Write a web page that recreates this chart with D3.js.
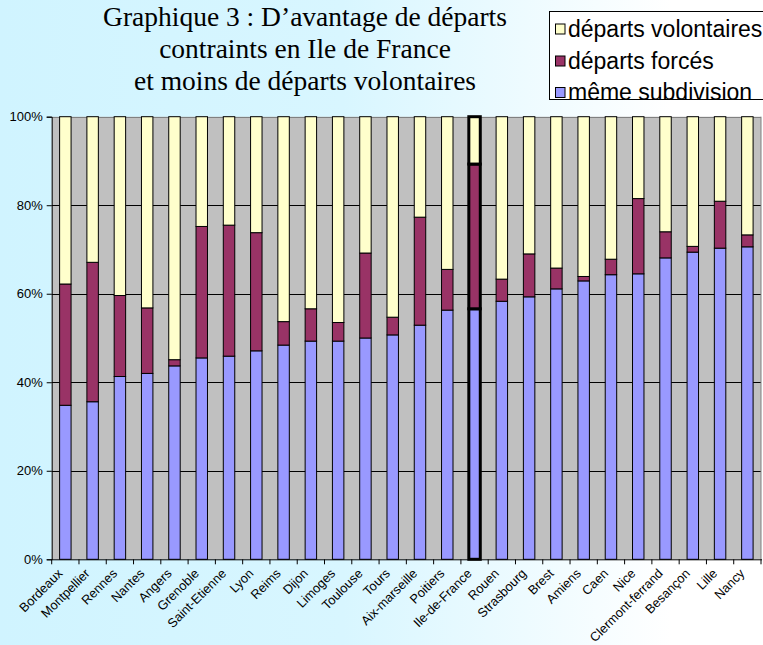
<!DOCTYPE html>
<html><head><meta charset="utf-8">
<script src="https://cdn.jsdelivr.net/npm/d3@7"></script>
<style>html,body{margin:0;padding:0;}svg{display:block;}</style>
</head><body>
<svg id="c" width="763" height="645"></svg>
<script>
const categories = ["Bordeaux","Montpellier","Rennes","Nantes","Angers","Grenoble","Saint-Etienne","Lyon","Reims","Dijon","Limoges","Toulouse","Tours","Aix-marseille","Poitiers","Ile-de-France","Rouen","Strasbourg","Brest","Amiens","Caen","Nice","Clermont-ferrand","Besançon","Lille","Nancy"];
const memeSubdivision = [34.8,35.6,41.3,42.0,43.7,45.5,45.9,47.1,48.4,49.3,49.3,50.0,50.7,52.9,56.3,56.6,58.3,59.3,61.1,62.9,64.3,64.5,68.1,69.4,70.3,70.6];
const departsForces = [27.4,31.5,18.3,14.8,1.4,29.7,29.6,26.7,5.3,7.3,4.2,19.2,4.0,24.4,9.2,32.7,5.0,9.7,4.7,1.0,3.5,17.0,5.9,1.3,10.6,2.7];
const departsVolontaires = [37.8,32.9,40.4,43.2,54.9,24.8,24.5,26.2,46.3,43.4,46.5,30.8,45.3,22.7,34.5,10.7,36.7,31.0,34.2,36.1,32.2,18.5,26.0,29.3,19.1,26.7];
const seriesNames = ["même subdivision","départs forcés","départs volontaires"];
const seriesColors = ["#9999ff","#993366","#ffffcc"];
const yTicks = [0,0.2,0.4,0.6,0.8,1];
const titleLines = ["Graphique 3 : D’avantage de départs","contraints en Ile de France","et moins de départs volontaires"];
const highlighted = "Ile-de-France";

(function(){
const svg = d3.select("#c");
const W = 763, H = 645;

const defs = svg.append("defs");
const grad = defs.append("linearGradient").attr("id","bg").attr("x1","0").attr("y1","0").attr("x2","1").attr("y2","0");
grad.append("stop").attr("offset","0").attr("stop-color","#d0f4ff");
grad.append("stop").attr("offset","0.45").attr("stop-color","#d8f6ff");
grad.append("stop").attr("offset","0.88").attr("stop-color","#ffffff");
svg.append("rect").attr("width",W).attr("height",H).attr("fill","url(#bg)");

const table = categories.map((c,i)=>({cat:c, s0:memeSubdivision[i], s1:departsForces[i], s2:departsVolontaires[i]}));
const stack = d3.stack().keys(["s0","s1","s2"]).offset(d3.stackOffsetExpand);
const stacked = stack(table);

const pLeft = 51.7, pRight = 761, pTop = 116.7, pBottom = 559.3;
const x = d3.scaleBand().domain(categories).range([pLeft,pRight]).paddingInner(0.58).paddingOuter(0.29);
const y = d3.scaleLinear().domain([0,1]).range([pBottom,pTop]);

svg.append("rect").attr("x",pLeft).attr("y",pTop).attr("width",pRight-pLeft).attr("height",pBottom-pTop).attr("fill","#c0c0c0");
svg.append("g").selectAll("line").data(yTicks.filter(t=>t>0)).join("line")
  .attr("x1",pLeft).attr("x2",pRight).attr("y1",d=>Math.round(y(d))+0.5).attr("y2",d=>Math.round(y(d))+0.5)
  .attr("stroke",d=>d===1?"#808080":"#000").attr("stroke-width",1);
svg.append("line").attr("x1",pRight).attr("x2",pRight).attr("y1",pTop).attr("y2",pBottom).attr("stroke","#808080");

const gBars = svg.append("g");
stacked.forEach((ser,si)=>{
  gBars.append("g").selectAll("rect").data(ser).join("rect")
    .attr("x",d=>x(d.data.cat))
    .attr("width",x.bandwidth())
    .attr("y",d=>y(d[1]))
    .attr("height",d=>y(d[0])-y(d[1]))
    .attr("fill",seriesColors[si])
    .attr("stroke","#000")
    .attr("stroke-width",d=>d.data.cat===highlighted?3:1);
});

const yAxis = d3.axisLeft(y).tickValues(yTicks).tickFormat(d3.format(".0%")).tickSize(5).tickPadding(4);
const gy = svg.append("g").attr("transform",`translate(${pLeft},0)`).call(yAxis);
gy.select(".domain").attr("stroke","#000");
gy.selectAll(".tick line").attr("stroke","#000");
gy.selectAll(".tick text").attr("font-family","Liberation Sans, Arial, sans-serif").attr("font-size",13).attr("fill","#000");

svg.append("line").attr("x1",pLeft).attr("x2",pRight+1).attr("y1",pBottom+0.5).attr("y2",pBottom+0.5).attr("stroke","#000");
const step = x.step();
svg.append("g").selectAll("line").data(d3.range(categories.length+1)).join("line")
  .attr("x1",i=>pLeft+i*step).attr("x2",i=>pLeft+i*step).attr("y1",pBottom).attr("y2",pBottom+5).attr("stroke","#000");
svg.append("g").selectAll("text").data(categories).join("text")
  .attr("transform",d=>`translate(${x(d)+x.bandwidth()/2-2},${pBottom+15}) rotate(-45)`)
  .attr("text-anchor","end")
  .attr("font-family","Liberation Sans, Arial, sans-serif").attr("font-size",12.8).attr("fill","#000")
  .text(d=>d);

svg.append("g").selectAll("text").data(titleLines).join("text")
  .attr("x",305).attr("y",(d,i)=>26+i*32).attr("text-anchor","middle")
  .attr("font-family","Liberation Serif, Times New Roman, serif").attr("font-size",27.5).attr("fill","#000")
  .text(d=>d);

const lg = svg.append("g");
lg.append("rect").attr("x",549.5).attr("y",11.5).attr("width",230).attr("height",88).attr("fill","#ffffff").attr("stroke","#000");
const legendOrder = [2,1,0];
const legendY = [29,61,92.5];
legendOrder.forEach((si,k)=>{
  lg.append("rect").attr("x",555.5).attr("y",legendY[k]-5).attr("width",9.5).attr("height",10).attr("fill",seriesColors[si]).attr("stroke","#000");
  lg.append("text").attr("x",568).attr("y",legendY[k]+7.5)
    .attr("font-family","Liberation Sans, Arial, sans-serif").attr("font-size",23).attr("fill","#000")
    .text(seriesNames[si]);
});
})();
</script>
</body></html>
